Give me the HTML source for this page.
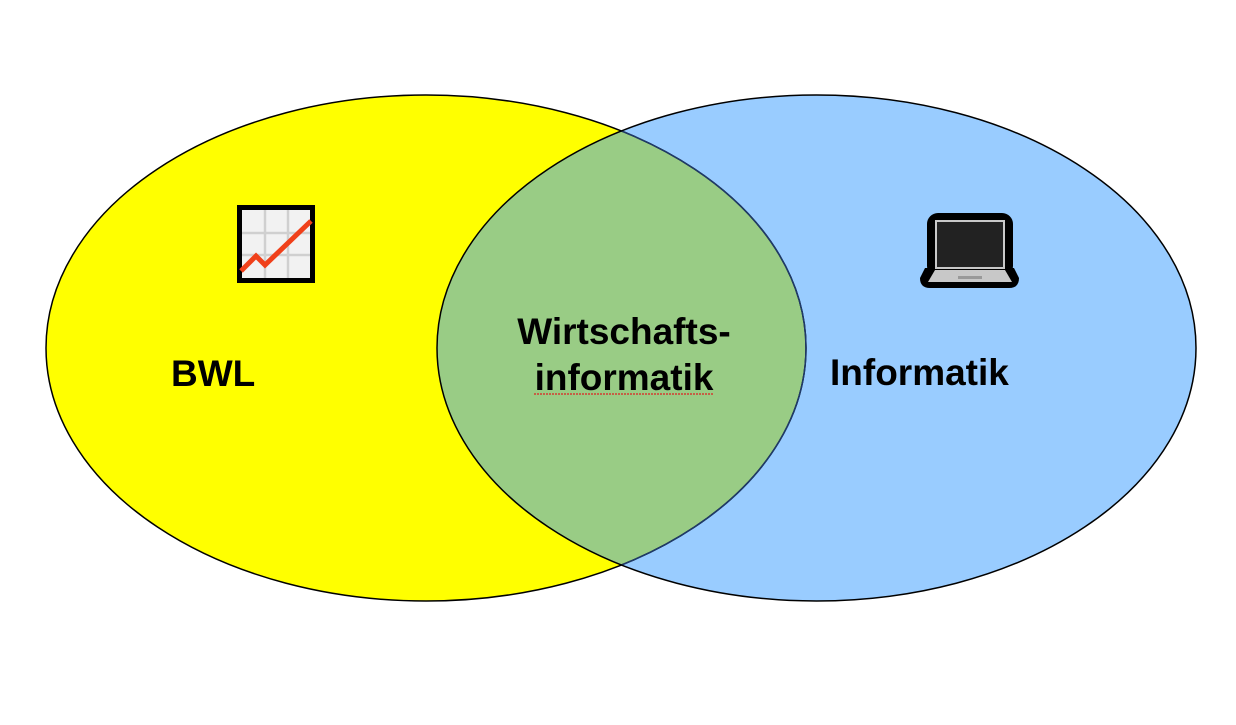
<!DOCTYPE html>
<html><head><style>body{margin:0;background:#fff}</style></head><body>
<svg width="1236" height="720" xmlns="http://www.w3.org/2000/svg">
<defs>
<clipPath id="c"><ellipse cx="426" cy="348" rx="380" ry="253"/></clipPath>
<clipPath id="r"><ellipse cx="816.5" cy="348" rx="379.5" ry="253"/></clipPath>
</defs>
<ellipse cx="426" cy="348" rx="380" ry="253" fill="#ffff00"/>
<ellipse cx="816.5" cy="348" rx="379.5" ry="253" fill="#99ccff"/>
<ellipse cx="816.5" cy="348" rx="379.5" ry="253" fill="#99cc85" clip-path="url(#c)"/>
<ellipse cx="426" cy="348" rx="380" ry="253" fill="none" stroke="#000" stroke-width="1.5"/>
<ellipse cx="426" cy="348" rx="380" ry="253" fill="none" stroke="#1f3a6a" stroke-width="1.5" clip-path="url(#r)"/>
<ellipse cx="816.5" cy="348" rx="379.5" ry="253" fill="none" stroke="#000" stroke-width="1.5"/>
<rect x="239.5" y="207.5" width="73" height="73" fill="#f2f2f2" stroke="#000" stroke-width="5"/>
<g stroke="#d0d0d0" stroke-width="2.5"><line x1="265" y1="210" x2="265" y2="278"/><line x1="288" y1="210" x2="288" y2="278"/><line x1="242" y1="233" x2="310" y2="233"/><line x1="242" y1="255" x2="310" y2="255"/></g>
<polyline points="241,271 256,256 265,265 311,221" fill="none" stroke="#f0401a" stroke-width="5"/>
<rect x="927" y="213" width="86" height="64" rx="11" fill="#000"/>
<path d="M925 268 L1014 268 L1019 278 Q1019 288 1009 288 L930 288 Q920 288 920 278 Z" fill="#000"/>
<rect x="935" y="220" width="70" height="49" fill="#c8c8c8"/>
<rect x="937" y="222" width="66" height="45" fill="#222"/>
<path d="M935 270 L1005 270 L1012 282 L928 282 Z" fill="#c8c8c8"/>
<rect x="958" y="276" width="24" height="3" fill="#999"/>
<g font-family="Liberation Sans, sans-serif" font-weight="bold" font-size="37" fill="#000">
<text x="171" y="386">BWL</text>
<text x="830" y="385">Informatik</text>
<text x="624" y="344" text-anchor="middle">Wirtschafts-</text>
<text x="624" y="390" text-anchor="middle">informatik</text>
</g>
<line x1="534" y1="394" x2="714" y2="394" stroke="#e02020" stroke-width="1.2" stroke-dasharray="2 1"/>
</svg>
</body></html>
